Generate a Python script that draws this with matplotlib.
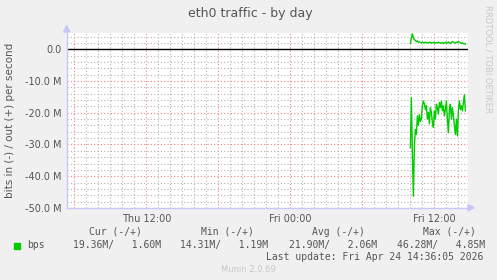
import numpy as np
import matplotlib
matplotlib.use("Agg")
import matplotlib.pyplot as plt
from matplotlib.ticker import MultipleLocator, FuncFormatter

# hours relative to Fri 00:00, one sample every 5 minutes from Fri 10:00
start_hour = 10.0
step_hour = 5 / 60

# traffic in Mbit/s, "in" drawn below zero, "out" above
bps_in = [-31.0, -15.3, -32.6, -46.3, -30.5, -25.3, -26.8, -21.0, -24.0, -20.6,
          -22.7, -22.0, -17.8, -16.3, -17.3, -19.0, -17.8, -22.0, -19.9, -23.5,
          -18.4, -19.9, -23.0, -24.6, -19.4, -22.0, -17.3, -18.4, -20.4, -16.8,
          -18.4, -16.3, -19.4, -17.8, -21.0, -19.0, -16.3, -22.0, -26.3, -19.0,
          -17.3, -22.0, -18.4, -21.0, -24.0, -26.8, -22.0, -27.3, -19.0, -16.3,
          -19.0, -17.8, -19.4, -16.8, -14.3, -19.4]
bps_out = [1.9, 3.5, 4.85, 3.6, 3.0, 2.8, 2.4, 2.6, 2.2, 2.3,
           2.1, 2.0, 2.2, 2.0, 2.1, 2.2, 2.0, 2.1, 2.0, 2.2,
           2.1, 1.9, 2.0, 2.2, 2.0, 1.9, 2.1, 2.0, 2.2, 2.1,
           1.9, 2.0, 2.1, 1.8, 2.0, 2.2, 1.9, 2.0, 2.3, 2.0,
           1.8, 2.1, 2.4, 2.2, 2.0, 1.9, 2.2, 2.1, 2.4, 2.2,
           2.0, 1.8, 2.0, 1.7, 1.8, 1.6]
hours = start_hour + step_hour * np.arange(len(bps_in))

x_ticks = [-12, 0, 12]
x_labels = ["Thu 12:00", "Fri 00:00", "Fri 12:00"]

legend_cols = ["Cur (-/+)", "Min (-/+)", "Avg (-/+)", "Max (-/+)"]
legend_vals = ["19.36M/   1.60M", "14.31M/   1.19M", "21.90M/   2.06M", "46.28M/   4.85M"]
last_update = "Last update: Fri Apr 24 14:36:05 2026"

W, H = 497, 280
fig = plt.figure(figsize=(W / 100, H / 100), dpi=100, facecolor="#F0F0F0")
ax = fig.add_axes([67 / W, (H - 208) / H, 401 / W, 175.3 / H])
ax.set_facecolor("white")

ax.set_xlim(-18.6, 14.8)
ax.set_ylim(-50, 5.2)

# grid like rrdtool: gray minor, red major
ax.xaxis.set_minor_locator(MultipleLocator(1))
ax.xaxis.set_major_locator(MultipleLocator(6))
ax.yaxis.set_minor_locator(MultipleLocator(2))
ax.yaxis.set_major_locator(MultipleLocator(10))
ax.grid(which="minor", color="#B4B4B4", linestyle=(0, (1, 2)), linewidth=0.8)
ax.grid(which="major", color="#F08080", linestyle=(0, (1, 2)), linewidth=0.8)
ax.set_axisbelow(True)

ax.tick_params(which="both", length=0, labelsize=7, colors="#555555", pad=4)
ax.set_xticks(np.arange(-18, 15, 6))
ax.set_xticklabels(["" if t not in x_ticks else x_labels[x_ticks.index(t)]
                    for t in np.arange(-18, 15, 6)])
ax.yaxis.set_major_formatter(FuncFormatter(lambda v, p: "0.0" if v == 0 else f"{v:.1f} M"))

for s in ["top", "right"]:
    ax.spines[s].set_visible(False)
for s in ["left", "bottom"]:
    ax.spines[s].set_color("#C8C8F8")
    ax.spines[s].set_linewidth(1)

ax.axhline(0, color="black", linewidth=1)
ax.plot(hours, bps_in, color="#00CC00", linewidth=1)
ax.plot(hours, bps_out, color="#00CC00", linewidth=1)

# axis arrows
fig.patches.append(plt.Polygon([[63.5 / W, (H - 32) / H], [70 / W, (H - 32) / H],
                                [66.7 / W, (H - 25.5) / H]],
                               transform=fig.transFigure, color="#C8C8F8"))
fig.patches.append(plt.Polygon([[468 / W, (H - 204.5) / H], [468 / W, (H - 211) / H],
                                [474 / W, (H - 207.7) / H]],
                               transform=fig.transFigure, color="#C8C8F8"))

fig.text(250 / W, (H - 14) / H, "eth0 traffic - by day", ha="center", va="center",
         fontsize=9, color="#555555")
fig.text(10 / W, (H - 120) / H, "bits in (-) / out (+) per second", rotation=90,
         ha="center", va="center", fontsize=7.5, color="#555555")
fig.text(488 / W, (H - 5) / H, "RRDTOOL / TOBI OETIKER", rotation=-90,
         ha="center", va="top", fontsize=6, color="#C8C8C8")

mono = dict(family="DejaVu Sans Mono", fontsize=7, color="#555555", va="center")
for x, t in zip([89, 201, 312, 423], legend_cols):
    fig.text(x / W, (H - 232) / H, t, **mono)
fig.patches.append(plt.Rectangle((14 / W, (H - 248.5) / H), 6 / W, 6 / H,
                                 transform=fig.transFigure, color="#00CC00"))
fig.text(27 / W, (H - 245) / H, "bps", **mono)
for x, t in zip([73, 180, 289, 397], legend_vals):
    fig.text(x / W, (H - 245) / H, t, **mono)
fig.text(483 / W, (H - 257) / H, last_update, ha="right", **mono)
fig.text(248 / W, (H - 269) / H, "Munin 2.0.69", ha="center", va="center",
         fontsize=6, color="#C8C8C8")

fig.savefig("out.png", dpi=100, facecolor=fig.get_facecolor())
